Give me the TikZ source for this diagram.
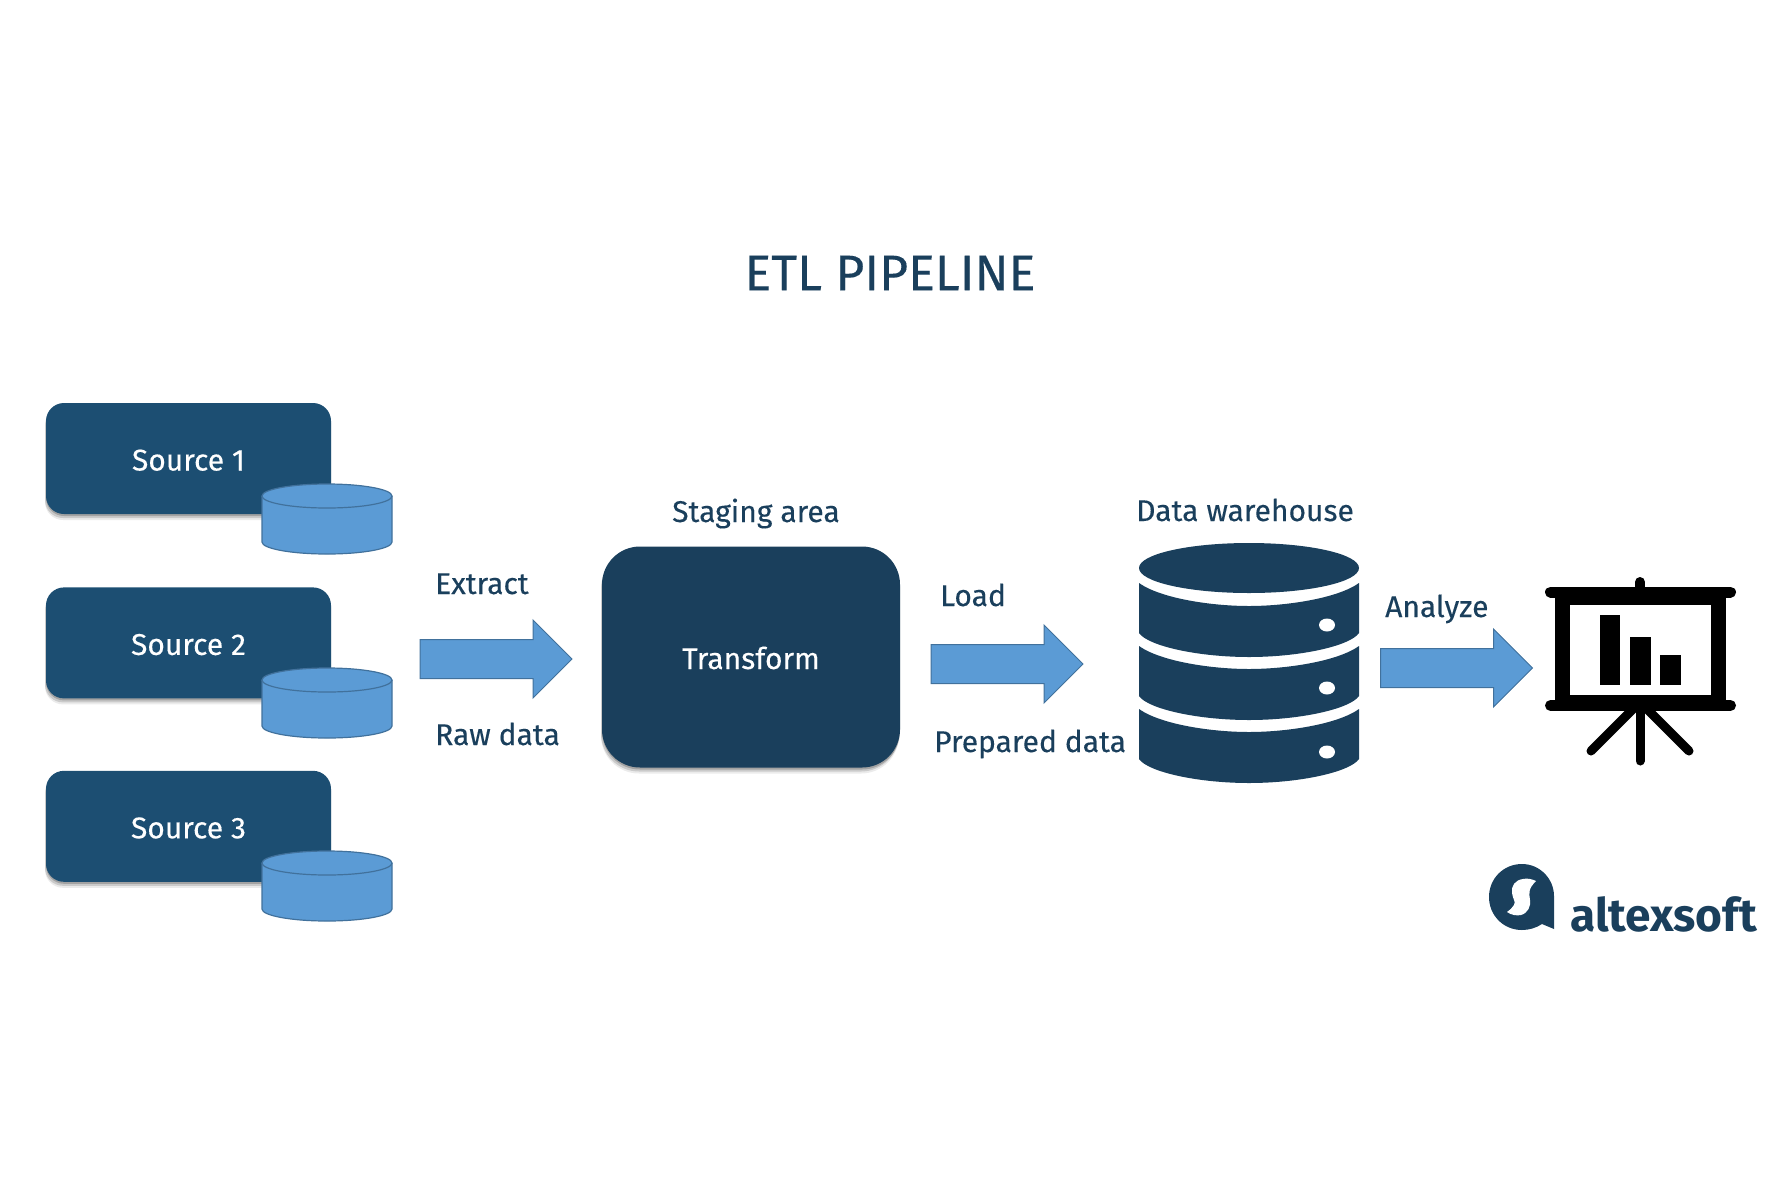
\documentclass[tikz,border=0pt]{standalone}
\usepackage{fontspec}
\setmainfont{Fira Sans}
\newfontfamily\dinfont[FakeBold=0.25]{Fira Sans}
\usetikzlibrary{arrows.meta,calc,positioning,shadows,shapes.arrows}
\definecolor{Navy}{HTML}{1A3F5C}
\definecolor{Slate}{HTML}{1C4E72}
\definecolor{Sky}{HTML}{5B9BD5}
\definecolor{SkyLine}{HTML}{41719C}
\tikzset{
  softshadow/.style={drop shadow={shadow xshift=-1pt,shadow yshift=-6pt,fill=black,opacity=.08},
    drop shadow={shadow xshift=-1pt,shadow yshift=-4pt,fill=black,opacity=.14},
    drop shadow={shadow xshift=0pt,shadow yshift=-2pt,fill=black,opacity=.2}},
  sourcebox/.style={softshadow,fill=Slate,rounded corners=18pt,minimum width=285pt,minimum height=111pt,text=white,inner sep=0pt,
    text height=24pt,text depth=0pt,font=\dinfont\fontsize{30}{32}\selectfont},
  flow/.style={single arrow,draw=SkyLine,line width=1pt,fill=Sky,minimum height=152pt,inner sep=0pt,text height=38pt,text depth=0pt,text width=1pt,single arrow head extend=19.5pt,anchor=tail},
  label/.style={text=Navy,inner sep=0pt,anchor=base west,font=\dinfont\fontsize{30}{32}\selectfont},
}
\begin{document}
\begin{tikzpicture}[x=1pt,y=-1pt]
  \useasboundingbox (0,0) rectangle (1792,1195);
  \node[text=Navy,inner sep=0pt,font=\dinfont\fontsize{50}{52}\selectfont] (title) at (890,273) {ETL PIPELINE};
  % sources
  \node[sourcebox] (source1) at (188.5,458.5) {Source 1};
  \node[sourcebox,below=73pt of source1] (source2) {Source 2};
  \node[sourcebox,below=72pt of source2] (source3) {Source 3};
  \foreach \y in {0,184,367}{
    \draw[SkyLine,line width=1.2pt,fill=Sky] (262,{496+\y}) -- (262,{542+\y}) arc[start angle=180,end angle=360,x radius=65,y radius=-12] -- (392,{496+\y});
    \draw[SkyLine,line width=1.2pt,fill=Sky] (327,{496+\y}) ellipse [x radius=65,y radius=12];
  }
  % staging
  \node[softshadow,fill=Navy,rounded corners=38pt,minimum width=298pt,minimum height=221pt,text=white,inner sep=0pt,text height=24pt,text depth=0pt,font=\dinfont\fontsize{30}{32}\selectfont] (transform) at (751,657) {Transform};
  \node[flow] (extract) at (419.5,659) {};
  \node[flow] (load) at (930.5,664) {};
  \node[flow] (analyze) at (1380,668) {};
  \node[label] (extractlabel) at (435,594) {Extract};
  \node[label] (rawlabel) at (435,745) {Raw data};
  \node[label] (staginglabel) at (672,522) {Staging area};
  \node[label] (loadlabel) at (940,606) {Load};
  \node[label] (preparedlabel) at (934,752) {Prepared data};
  \node[label] (warehouselabel) at (1136,521) {Data warehouse};
  \node[label] (analyzelabel) at (1385,617) {Analyze};
  % warehouse
  \fill[Navy] (1249,568) ellipse [x radius=110,y radius=25];
  \foreach \y in {583,646,709}{
    \fill[Navy] (1139,\y) .. controls (1160,{\y+15}) and (1210,{\y+23}) .. (1249,{\y+23}) .. controls (1288,{\y+23}) and (1338,{\y+15}) .. (1359,\y)
      -- (1359,{\y+50}) .. controls (1350,{\y+63}) and (1300,{\y+74}) .. (1249,{\y+74}) .. controls (1198,{\y+74}) and (1148,{\y+63}) .. (1139,{\y+50}) -- cycle;
  }
  \foreach \y in {625,688,752}{\fill[white] (1327,\y) ellipse [x radius=8,y radius=6.5];}
  % screen
  \draw[black,line width=10pt,line cap=round] (1640,582) -- (1640,590);
  \draw[black,line width=11pt,line cap=round] (1550.5,592) -- (1730.5,592);
  \draw[black,line width=11pt,line cap=round] (1550.5,705.5) -- (1730.5,705.5);
  \draw[black,line width=15pt] (1562.5,597) rectangle (1718.5,702);
  \draw[black,line width=9pt,line cap=round] (1640,705) -- (1640,761);
  \draw[black,line width=9pt,line cap=round] (1640,702) -- (1591,751);
  \draw[black,line width=9pt,line cap=round] (1640,702) -- (1689,751);
  \foreach \a/\b/\t in {1600/1620/615,1630/1651/637,1660/1681/655}{\fill[black] (\a,\t) rectangle (\b,685);}
  % logo
  \fill[Navy] (1522,864) .. controls (1540,864) and (1554,879) .. (1554,896) -- (1554,929) -- (1542,924)
    .. controls (1536,928) and (1529,930) .. (1522,930) .. controls (1503,930) and (1489,915) .. (1489,897) .. controls (1489,879) and (1503,864) .. (1522,864) -- cycle;
  \fill[white] (1523,879) .. controls (1515,880) and (1511,886) .. (1512,893) .. controls (1513,900) and (1516,901) .. (1514,905) .. controls (1512,908) and (1510,910) .. (1507,912)
    .. controls (1511,915) and (1517,916) .. (1521,915) .. controls (1528,913) and (1531,906) .. (1530,900) .. controls (1529,893) and (1528,889) .. (1536,881) .. controls (1532,879) and (1527,878) .. (1523,879) -- cycle;
  \node[text=Navy,inner sep=0pt,anchor=base west,font=\fontsize{46}{48}\selectfont\bfseries] (logotext) at (1570,931) {altexsoft};
\end{tikzpicture}
\end{document}
